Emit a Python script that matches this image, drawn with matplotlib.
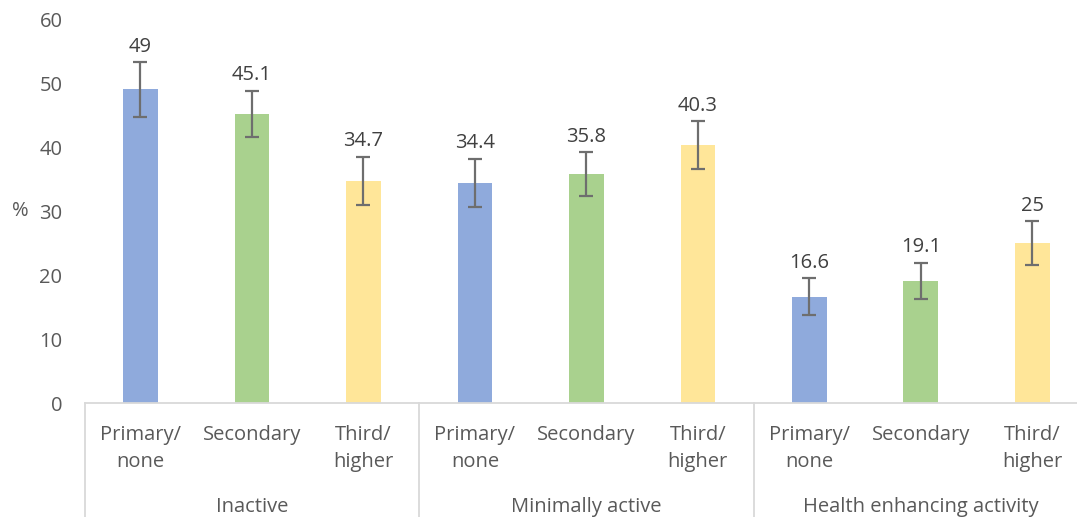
import matplotlib.pyplot as plt
from matplotlib import transforms

# Data
groups = ["Inactive", "Minimally active", "Health enhancing activity"]
levels = ["Primary/\nnone", "Secondary", "Third/\nhigher"]
values = [49, 45.1, 34.7, 34.4, 35.8, 40.3, 16.6, 19.1, 25]
err_low = [4.25, 3.5, 3.8, 3.8, 3.4, 3.7, 2.9, 2.8, 3.4]
err_high = [4.3, 3.7, 3.8, 3.8, 3.45, 3.7, 2.9, 2.85, 3.45]
colors = ["#8FAADC", "#A9D18E", "#FFE699"]

plt.rcParams['font.family'] = ['Open Sans', 'DejaVu Sans']
txt_color = "#595959"
fs = 14.5

# Creating the figure
fig = plt.figure(figsize=(10.77, 5.17), dpi=100)
ax = fig.add_axes([0.0786, 0.2205, 0.9316, 0.7427])

x = list(range(len(values)))
bar_colors = [colors[i % 3] for i in x]
ax.bar(x, values, width=0.31, color=bar_colors, zorder=2)
ax.errorbar(x, values, yerr=[err_low, err_high], fmt='none', ecolor="#6E6E6E",
            elinewidth=1.6, capsize=5, capthick=1.6, zorder=3)

# Value labels
for xi, v, eh in zip(x, values, err_high):
    ax.annotate("%g" % v, (xi, v + eh), xytext=(0, 11), textcoords="offset points",
                ha="center", va="center", fontsize=fs, color="#404040")

# Customizing axis
ax.set_xlim(-0.5, len(values) - 0.5)
ax.set_ylim(0, 60)
ax.set_yticks(range(0, 61, 10))
ax.tick_params(axis='y', length=0, pad=16, labelsize=fs, labelcolor=txt_color)
ax.set_xticks(x)
ax.set_xticklabels(levels * 3)
ax.tick_params(axis='x', length=0, pad=16, labelsize=fs, labelcolor=txt_color)
for lbl in ax.get_xticklabels():
    lbl.set_linespacing(1.45)
ax.set_ylabel("%", rotation=0, fontsize=fs, color=txt_color, va="center", labelpad=14)

for side in ["left", "right", "top"]:
    ax.spines[side].set_visible(False)
ax.spines["bottom"].set_color("#D9D9D9")
ax.spines["bottom"].set_linewidth(1.3)

# Group labels and separators
trans = transforms.blended_transform_factory(ax.transData, ax.transAxes)
for g, name in enumerate(groups):
    ax.text(3 * g + 1, -0.27, name, transform=trans, ha="center", va="center",
            fontsize=fs, color=txt_color)
    ax.plot([3 * g - 0.5, 3 * g - 0.5], [0, -0.31], transform=trans, color="#D9D9D9",
            linewidth=1.3, clip_on=False)

# Saving the chart
plt.savefig("out.png")
plt.close()
